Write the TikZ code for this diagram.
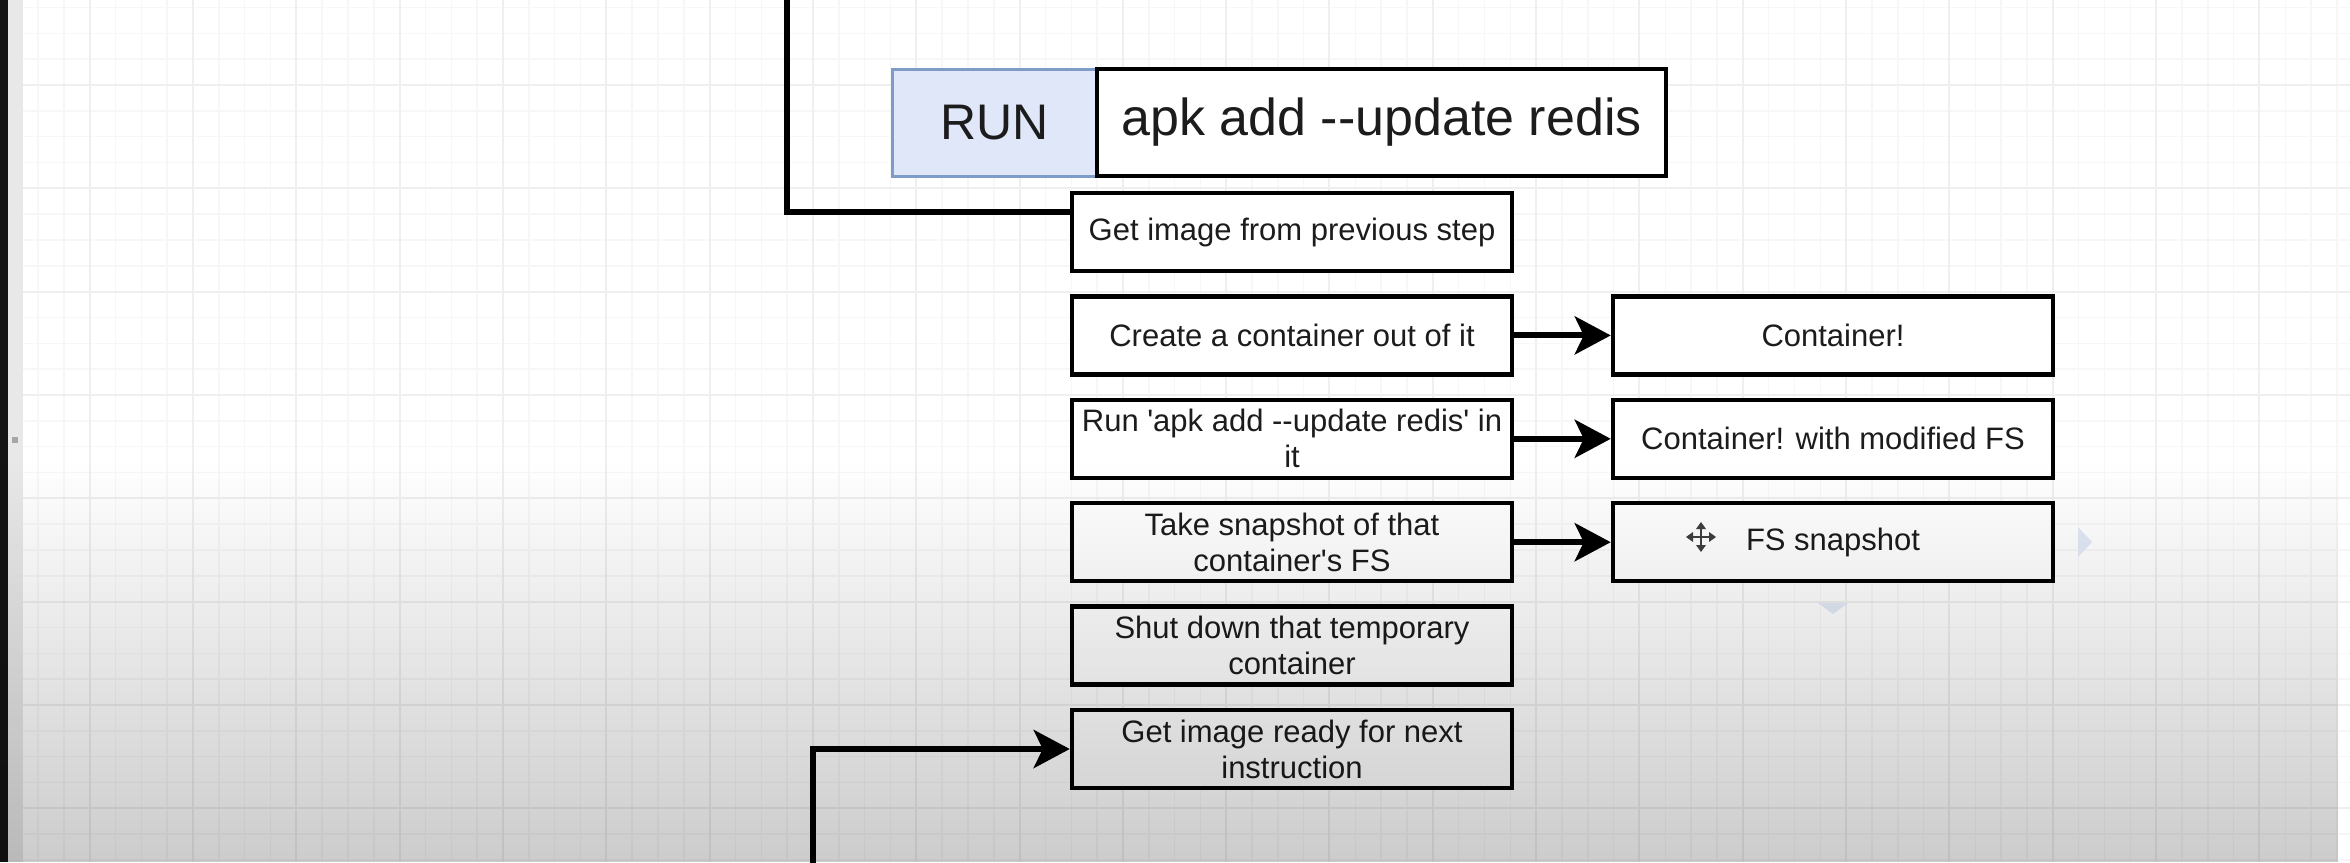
\documentclass[tikz,border=0pt]{standalone}
\usepackage{fontspec}
\setmainfont{Liberation Sans}
\usetikzlibrary{arrows.meta,fadings,calc}
\definecolor{runfill}{HTML}{DFE7F8}
\definecolor{rundraw}{HTML}{7F9BC8}
\definecolor{txt}{HTML}{1C1C1C}
\definecolor{gridminor}{HTML}{F7F7F7}
\definecolor{gridmajor}{HTML}{EFEFEF}
\definecolor{hint}{HTML}{E2E9F6}
\tikzfading[name=fadedown, top color=transparent!100, bottom color=transparent!0]
\begin{document}
\begin{tikzpicture}[x=1pt,y=-1pt,
  stepbox/.style={draw=black, line width=4.5pt, fill=white, minimum width=440pt, minimum height=78pt, inner sep=0pt, align=center, text=txt, font=\fontsize{31}{36}\selectfont},
  bigbox/.style={line width=4.5pt, minimum height=107pt, inner sep=0pt, text=txt},
  conn/.style={line width=6pt, draw=black, line join=miter},
  arr/.style={conn, -{Stealth[length=36pt,width=38pt,inset=9pt]}},
  gminor/.style={draw=gridminor, line width=1.5pt},
  gmajor/.style={draw=gridmajor, line width=2pt},
]
% background
\fill[white] (0,0) rectangle (2350,862);
\useasboundingbox (0,0) rectangle (2350,862);
\begin{scope}
\clip (23,0) rectangle (2350,862);
\foreach \k in {-19,...,72} \draw[gminor] ({503+25.83*\k},0) -- ({503+25.83*\k},862);
\foreach \k in {-4,...,31} \draw[gminor] (0,{85+25.83*\k}) -- (2350,{85+25.83*\k});
\foreach \k in {-5,...,18} \draw[gmajor] ({503+103.3*\k},0) -- ({503+103.3*\k},862);
\foreach \k in {-1,...,8} \draw[gmajor] (0,{85+103.3*\k}) -- (2350,{85+103.3*\k});
\end{scope}
\fill[black!92] (0,0) rectangle (8,862);
\fill[black!9] (8,0) rectangle (23,862);
\fill[black!35] (12,437) rectangle (18,443);

% top instruction
\node[bigbox, draw=rundraw, line width=3pt, fill=runfill, minimum width=205pt, font=\fontsize{50}{60}\selectfont] (run) at (994.5,122.5) {RUN};
\node[bigbox, draw=black, fill=white, minimum width=569pt, font=\fontsize{52}{60}\selectfont] (apk) at (1381.5,122.5) {apk add -{}-update redis};

% left column
\node[stepbox] (r0) at (1292,232) {Get image from previous step};
\node[stepbox] (r1) at (1292,335.4) {Create a container out of it};
\node[stepbox] (r2) at (1292,438.8) {Run \textquotesingle apk add -{}-update redis\textquotesingle\ in\\it};
\node[stepbox] (r3) at (1292,542.2) {Take snapshot of that\\container\textquotesingle s FS};
\node[stepbox] (r4) at (1292,645.6) {Shut down that temporary\\container};
\node[stepbox] (r5) at (1292,749) {Get image ready for next\\instruction};

% right column
\node[stepbox] (c1) at (1833,335.4) {Container!};
\node[stepbox] (c2) at (1833,438.8) {Container! with modified FS};
\node[stepbox] (c3) at (1833,542.2) {FS snapshot};

% connectors
\coordinate (topin) at (787,-10);
\coordinate (elbow1) at (787,212);
\draw[conn] (topin) -- (elbow1) -- (elbow1 -| r0.west);
\coordinate (botin) at (813,875);
\coordinate (elbow2) at (813,749);
\draw[arr] (botin) -- (elbow2) -- (r5.west);
\draw[arr] (r1.east) -- (c1.west);
\draw[arr] (r2.east) -- (c2.west);
\draw[arr] (r3.east) -- (c3.west);

% editor hints on the selected box
\fill[hint] (2078,527) -- (2092,542) -- (2078,557) -- cycle;
\fill[hint] (1818,603) -- (1848,603) -- (1833,614) -- cycle;
\begin{scope}[black!75, line width=2.5pt]
\draw (1701,525) -- (1701,549);
\draw (1689,537) -- (1713,537);
\fill (1701,522) -- (1696,529) -- (1706,529) -- cycle;
\fill (1701,552) -- (1696,545) -- (1706,545) -- cycle;
\fill (1686,537) -- (1693,532) -- (1693,542) -- cycle;
\fill (1716,537) -- (1709,532) -- (1709,542) -- cycle;
\end{scope}

% video vignette
\fill[black, opacity=0.2, path fading=fadedown] (0,460) rectangle (2350,862);
\end{tikzpicture}
\end{document}
